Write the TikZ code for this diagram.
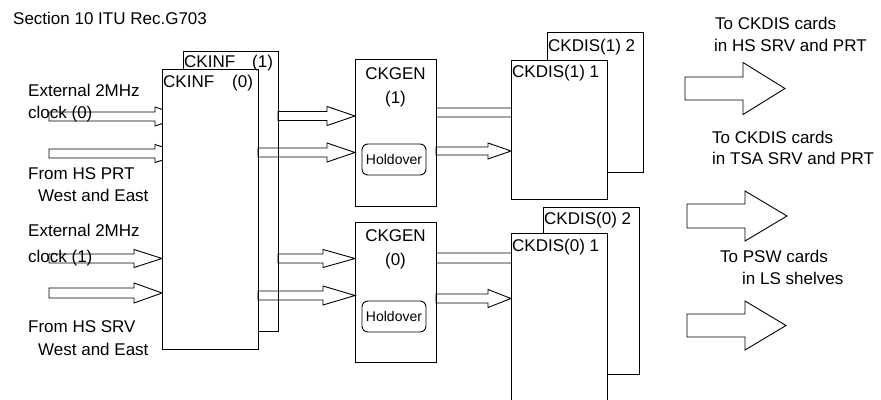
\documentclass[tikz,border=0pt]{standalone}
\usepackage{fontspec}
\setmainfont{Liberation Sans}
\usetikzlibrary{calc,backgrounds}
\tikzset{
  box/.style={draw=black, fill=white, line width=0.9pt, inner sep=0pt, outer sep=0pt, anchor=north west},
  lbl/.style={inner sep=0pt, text height=12.2pt, text depth=0pt, anchor=west, font=\fontsize{17}{20}\selectfont},
  clbl/.style={lbl, anchor=center},
  hold/.style={draw=black, fill=white, rounded corners=6pt, line width=0.9pt, inner sep=0pt,
               minimum width=64pt, minimum height=31pt, font=\fontsize{14}{16}\selectfont},
  barrow/.style={draw=black, line width=0.9pt, line join=miter},
}
% #1 options, #2 start, #3 tip, #4 head length, #5 shaft half width, #6 head half width
\newcommand\blockarrow[6][]{%
  \draw[barrow,#1] ($(#2)+(0,-#5)$) -- ($(#3)+(-#4,-#5)$) -- ($(#3)+(-#4,-#6)$) -- (#3)
    -- ($(#3)+(-#4,#6)$) -- ($(#3)+(-#4,#5)$) -- ($(#2)+(0,#5)$) -- cycle;}
\begin{document}
\begin{tikzpicture}[x=1pt,y=-1pt]
\clip (0,0) rectangle (881,399);
\useasboundingbox (0,0) rectangle (881,399);

% boxes
\node[box, minimum width=95pt, minimum height=280pt] (ckinf1) at (183,51) {};
\node[box, minimum width=96pt, minimum height=280pt] (ckinf0) at (162,69) {};
\node[box, minimum width=81pt, minimum height=147pt] (ckgen1) at (355,59) {};
\node[box, minimum width=81pt, minimum height=140pt] (ckgen0) at (355,222) {};
\node[hold] (hold1) at (394,159.5) {Holdover};
\node[hold] (hold0) at (394,316.5) {Holdover};
\node[box, minimum width=96pt, minimum height=140pt] (ckdis12) at (547,32) {};
\node[box, minimum width=96pt, minimum height=139pt] (ckdis11) at (511,60) {};
\node[box, minimum width=96pt, minimum height=167pt] (ckdis02) at (543,207) {};
\node[box, minimum width=96pt, minimum height=185pt] (ckdis01) at (511,233) {};

% arrow end points
\coordinate (l1) at (49,116.5);
\coordinate (l2) at (49,153.5);
\coordinate (l3) at (49,258.5);
\coordinate (l4) at (49,293);
\coordinate (ma) at (ckinf1.east |- 0,116);
\coordinate (mb) at (ckinf0.east |- 0,152.5);
\coordinate (mc) at (ckinf1.east |- 0,258.5);
\coordinate (md) at (ckinf0.east |- 0,295.5);
\coordinate (oe) at (ckgen1.east |- 0,112.5);
\coordinate (of) at (ckgen1.east |- 0,151);
\coordinate (og) at (ckgen0.east |- 0,258);
\coordinate (oh) at (ckgen0.east |- 0,298.5);
\coordinate (r1s) at (685,88.5);  \coordinate (r1t) at (785,88.5);
\coordinate (r2s) at (687,216);   \coordinate (r2t) at (787,216);
\coordinate (r3s) at (687,325.5); \coordinate (r3t) at (786,325.5);

\begin{pgfonlayer}{background}
  \blockarrow{l1}{ckinf1.west |- l1}{28}{4.5}{9.5}
  \blockarrow{l2}{ckinf1.west |- l2}{28}{4.5}{9}
  \blockarrow{l3}{ckinf0.west |- l3}{28}{4.5}{9}
  \blockarrow{l4}{ckinf0.west |- l4}{28}{5}{10}
  \blockarrow{oe}{ckdis12.west |- oe}{28}{4.5}{9}
  \blockarrow{og}{ckdis02.west |- og}{28}{5}{9}
\end{pgfonlayer}

% CKINF -> CKGEN
\blockarrow{ma}{ckgen1.west |- ma}{28}{4.5}{9.5}
\blockarrow{mb}{ckgen1.west |- mb}{28}{4.5}{9.5}
\blockarrow{mc}{ckgen0.west |- mc}{32}{4.5}{9}
\blockarrow{md}{ckgen0.west |- md}{32}{4.5}{9.5}
% CKGEN -> CKDIS
\blockarrow{of}{ckdis11.west |- of}{23}{4}{8}
\blockarrow{oh}{ckdis01.west |- oh}{23}{4.5}{9}
% outputs
\blockarrow{r1s}{r1t}{42}{11.5}{26}
\blockarrow{r2s}{r2t}{42}{12}{25}
\blockarrow{r3s}{r3t}{41}{11.5}{24.5}

% texts
\node[lbl] (title) at (13,18) {Section 10 ITU Rec.G703};
\node[lbl] (t1) at (28,90) {External 2MHz};
\node[lbl] (t2) at (28,112) {clock (0)};
\node[lbl] (t3) at (28,173) {From HS PRT};
\node[lbl] (t4) at (38,195) {West and East};
\node[lbl] (t5) at (28,230) {External 2MHz};
\node[lbl] (t6) at (28,256) {clock (1)};
\node[lbl] (t7) at (28,326) {From HS SRV};
\node[lbl] (t8) at (38,349) {West and East};

\node[lbl] (ci1a) at (184,61.5) {CKINF};
\node[lbl] (ci1b) at (252,61.5) {(1)};
\node[lbl] (ci0a) at (163,81.5) {CKINF};
\node[lbl] (ci0b) at (232,81.5) {(0)};

\node[clbl] (cg1a) at (395.5,73.5) {CKGEN};
\node[clbl] (cg1b) at (395.5,97) {(1)};
\node[clbl] (cg0a) at (395.5,235.5) {CKGEN};
\node[clbl] (cg0b) at (395.5,259) {(0)};

\node[lbl] (cd12) at (548,45) {CKDIS(1) 2};
\node[lbl] (cd11) at (512,71.5) {CKDIS(1) 1};
\node[lbl] (cd02) at (544,218.5) {CKDIS(0) 2};
\node[lbl] (cd01) at (512,245) {CKDIS(0) 1};

\node[lbl] (o1a) at (715,23) {To CKDIS cards};
\node[lbl] (o1b) at (714,45) {in HS SRV and PRT};
\node[lbl] (o2a) at (712,137) {To CKDIS cards};
\node[lbl] (o2b) at (712,158) {in TSA SRV and PRT};
\node[lbl] (o3a) at (720,256.5) {To PSW cards};
\node[lbl] (o3b) at (742,278.5) {in LS shelves};
\end{tikzpicture}
\end{document}
